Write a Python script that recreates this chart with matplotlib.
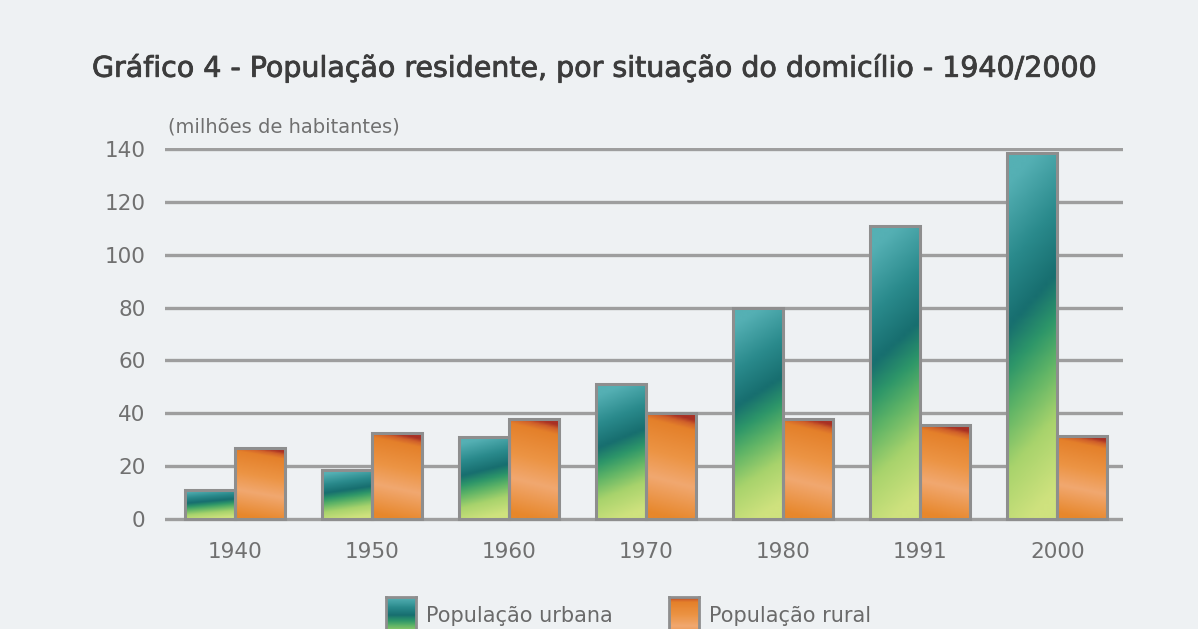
import numpy as np
import matplotlib.pyplot as plt
from matplotlib.colors import LinearSegmentedColormap
import matplotlib.patheffects as pe

# data (millions of inhabitants)
anos = ['1940', '1950', '1960', '1970', '1980', '1991', '2000']
urbana = [11, 18.5, 31, 51, 80, 111, 138.5]
rural = [27, 32.5, 38, 40, 38, 35.5, 31.5]
yticks = [0, 20, 40, 60, 80, 100, 120, 140]

bg = '#eef1f3'
grid_col = '#9e9e9e'
edge_col = '#8e8e8e'

# watercolour-like fills
cm_urb = LinearSegmentedColormap.from_list('urb', [
    (0.0, '#cfe27e'), (0.2, '#a8d36c'), (0.36, '#5fb466'),
    (0.48, '#2d9669'), (0.6, '#176e6f'), (0.78, '#2a8a8c'), (1.0, '#55b0b4')])
cm_rur = LinearSegmentedColormap.from_list('rur', [
    (0.0, '#e7872b'), (0.35, '#f1a870'), (0.6, '#ec9444'),
    (0.9, '#e4802a'), (0.96, '#cf5f2a'), (1.0, '#a83024')])

fig = plt.figure(figsize=(11.98, 6.29), dpi=100, facecolor=bg)
ax = fig.add_axes([0.1377, 0.1707, 0.7997, 0.5944])
ax.set_facecolor('none')

x = np.arange(len(anos))
w = 0.365

for y in yticks:
    ax.axhline(y, color=grid_col, lw=2.4, zorder=1)


def fill_bars(bars, cmap, tilt):
    ny, nx = 60, 20
    yy, xx = np.mgrid[0:1:ny * 1j, 0:1:nx * 1j]
    grad = np.clip(yy - tilt * xx + tilt * 0.5, 0, 1)
    for b in bars:
        x0, h, bw = b.get_x(), b.get_height(), b.get_width()
        im = ax.imshow(grad, extent=[x0, x0 + bw, 0, h], origin='lower',
                       cmap=cmap, vmin=0, vmax=1, aspect='auto',
                       interpolation='bilinear', zorder=2)
        im.set_clip_path(b)


b1 = ax.bar(x - w / 2, urbana, w, color='none', edgecolor=edge_col, lw=2.2, zorder=3)
b2 = ax.bar(x + w / 2, rural, w, color='none', edgecolor=edge_col, lw=2.2, zorder=3)
fill_bars(b1, cm_urb, 0.15)
fill_bars(b2, cm_rur, -0.12)

ax.set_xlim(-0.51, 6.48)
ax.set_ylim(-1, 140.5)
for s in ax.spines.values():
    s.set_visible(False)
ax.set_yticks(yticks)
ax.set_xticks(x)
ax.set_xticklabels(anos)
ax.tick_params(length=0, labelsize=15.5, labelcolor='#707070')
ax.tick_params(axis='y', pad=14)
ax.tick_params(axis='x', pad=15)

fig.text(92 / 1198, 1 - 68 / 629,
         'Gráfico 4 - População residente, por situação do domicílio - 1940/2000',
         fontsize=20.5, color='#3c3c3c', va='center', ha='left',
         path_effects=[pe.withStroke(linewidth=0.6, foreground='#3c3c3c')])
fig.text(168 / 1198, 1 - 127 / 629, '(milhões de habitantes)',
         fontsize=14, color='#707070', va='center', ha='left')

# legend at the bottom (cut by the page edge)
grad_v = np.linspace(0, 1, 40).reshape(-1, 1)
for px, cmap, label in [(386, cm_urb, 'População urbana'),
                        (669, cm_rur, 'População rural')]:
    sw = fig.add_axes([px / 1198, -0.02, 30 / 1198, (629 - 597) / 629 + 0.02])
    sw.imshow(grad_v, cmap=cmap, origin='lower', aspect='auto', vmin=0, vmax=1)
    sw.set_xticks([])
    sw.set_yticks([])
    for s in sw.spines.values():
        s.set_color(edge_col)
        s.set_linewidth(2)
    fig.text((px + 40) / 1198, 1 - 606 / 629, label, fontsize=15,
             color='#6a6a6a', va='top', ha='left')

fig.savefig('out.png', dpi=100, facecolor=bg)
